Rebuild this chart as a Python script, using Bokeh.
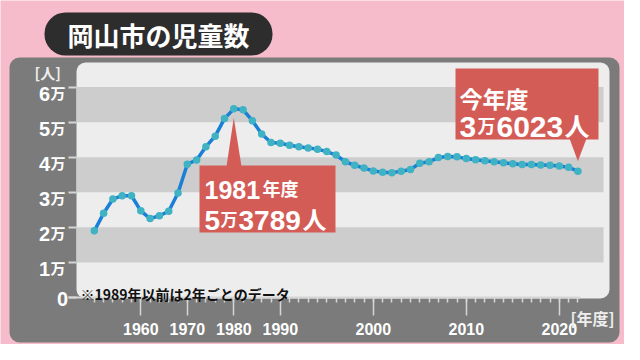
from bokeh.plotting import figure
from bokeh.models import Range1d, FixedTicker, BoxAnnotation, PolyAnnotation, Label
from bokeh.embed import file_html
from bokeh.resources import INLINE

# ---- data (children in Okayama city) ----
years_biennial = [1951, 1953, 1955, 1957, 1959, 1961, 1963, 1965, 1967, 1969,
                  1971, 1973, 1975, 1977, 1979, 1981, 1983, 1985, 1987, 1989]
vals_biennial = [19000, 24000, 28100, 29000, 29000, 24700, 22500, 23300, 24600, 29800,
                 38000, 39200, 43000, 46000, 51000, 53789, 53500, 50400, 46600, 44200]
years_annual = [1990, 1991, 1992, 1993, 1994, 1995, 1996, 1997, 1998, 1999,
                2000, 2001, 2002, 2003, 2004, 2005, 2006, 2007, 2008, 2009,
                2010, 2011, 2012, 2013, 2014, 2015, 2016, 2017, 2018, 2019,
                2020, 2021, 2022]
vals_annual = [44000, 43400, 43000, 42600, 42300, 41600, 40600, 38700, 37700, 36900,
               36100, 35700, 35600, 36000, 36500, 38300, 38700, 39900, 40200, 40100,
               39600, 39300, 39000, 38700, 38400, 38100, 37900, 37900, 37800, 37700,
               37500, 37100, 36023]
x_tick_years = [1960, 1970, 1980, 1990, 2000, 2010, 2020]
y_ticks = [0, 10000, 20000, 30000, 40000, 50000, 60000]
y_tick_nums = ["0", "1", "2", "3", "4", "5", "6"]

years = years_biennial + years_annual
vals = vals_biennial + vals_annual


def xpos(year):
    # before 1990 each 2-year step takes one slot, afterwards each year
    return (year - 1950) // 2 if year < 1990 else year - 1970


xs = [xpos(y) for y in years]

# ---- layout helpers (page pixel -> data coordinates) ----
PX_PER_SLOT = 9.3
X0_PAGE = 101.8
PX_PER_PERSON = 235 / 67000.0


def X(px):
    return (px - X0_PAGE) / PX_PER_SLOT


def Y(py):
    return (305 - py) / PX_PER_PERSON


PINK = "#f6bccb"
p = figure(width=624, height=344, output_backend="svg", toolbar_location=None,
           x_range=Range1d(X(8), X(632)), y_range=Range1d(Y(352), Y(8)),
           min_border=0)
p.border_fill_color = PINK
p.background_fill_color = PINK
p.outline_line_color = None
p.grid.visible = False

# panels
p.add_layout(BoxAnnotation(left=X(17), right=X(627), top=Y(65), bottom=Y(350),
                           fill_color="#7b7b7b", fill_alpha=1, line_color=None,
                           border_radius=10, level="image"))
p.add_layout(BoxAnnotation(left=X(84), right=X(617), top=Y(70), bottom=Y(306),
                           fill_color="#ededed", fill_alpha=1, line_color=None,
                           border_radius=9, level="image"))
for lo, hi in [(10000, 20000), (30000, 40000), (50000, 60000)]:
    p.add_layout(BoxAnnotation(left=X(84), right=X(611), bottom=lo, top=hi,
                               fill_color="#cdcdcd", fill_alpha=1, line_color=None,
                               level="underlay"))

# title pill
p.add_layout(BoxAnnotation(left=X(52), right=X(280), top=Y(20), bottom=Y(63),
                           fill_color="#2d2d2d", fill_alpha=1, line_color=None,
                           border_radius=21, level="underlay"))
p.add_layout(Label(x=X(166), y=Y(42), text="岡山市の児童数", text_align="center",
                   text_baseline="middle", text_font="Noto Sans CJK JP",
                   text_font_style="bold", text_font_size="26px", text_color="white"))

# axes (placed inside the full-canvas frame)
ax = p.xaxis[0]
ax.fixed_location = 0
ax.bounds = (X(76), X(588))
ax.ticker = FixedTicker(ticks=[xpos(y) for y in x_tick_years], minor_ticks=xs)
ax.major_label_overrides = {xpos(y): str(y) for y in x_tick_years}
ax.axis_line_color = "#d6d6d6"
ax.axis_line_width = 2
ax.major_tick_out = 18
ax.major_tick_in = 0
ax.minor_tick_out = 5
ax.minor_tick_in = 0
ax.major_tick_line_color = "#d6d6d6"
ax.minor_tick_line_color = "#d6d6d6"
ax.major_tick_line_width = 1.5
ax.minor_tick_line_width = 1.5
ax.major_label_text_color = "white"
ax.major_label_text_font = "Liberation Sans"
ax.major_label_text_font_style = "bold"
ax.major_label_text_font_size = "16px"
ax.major_label_standoff = 7

ay = p.yaxis[0]
ay.fixed_location = X(84)
ay.ticker = FixedTicker(ticks=y_ticks)
ay.major_label_overrides = {t: "" for t in y_ticks}
ay.axis_line_color = None
ay.major_tick_out = 8
ay.major_tick_in = 0
ay.minor_tick_out = 0
ay.minor_tick_in = 0
ay.major_tick_line_color = "#d6d6d6"
ay.major_tick_line_width = 2

# y tick labels: big digit + small 万
for t, n in zip(y_ticks, y_tick_nums):
    if t == 0:
        p.add_layout(Label(x=X(75.5), y=t - 1.0 / PX_PER_PERSON, text=n, text_align="right",
                           text_baseline="alphabetic", text_font="Liberation Sans",
                           text_font_style="bold", text_font_size="20px",
                           text_color="white"))
        continue
    p.add_layout(Label(x=X(57.5), y=t - 6.5 / PX_PER_PERSON, text=n, text_align="right",
                       text_baseline="alphabetic", text_font="Liberation Sans",
                       text_font_style="bold", text_font_size="20px", text_color="white"))
    p.add_layout(Label(x=X(73), y=t - 5 / PX_PER_PERSON, text="万", text_align="right",
                       text_baseline="alphabetic", text_font="Noto Sans CJK JP",
                       text_font_style="bold", text_font_size="15px", text_color="white"))

p.add_layout(Label(x=X(42), y=Y(80), text="[人]", text_font="Noto Sans CJK JP",
                   text_font_style="bold", text_font_size="15px", text_color="#eeeeee",
                   text_baseline="alphabetic"))
p.add_layout(Label(x=X(578), y=Y(325), text="[年度]", text_font="Noto Sans CJK JP",
                   text_font_style="bold", text_font_size="16px", text_color="#eeeeee",
                   text_baseline="alphabetic"))
p.add_layout(Label(x=X(88), y=Y(301), text="※1989年以前は2年ごとのデータ",
                   text_font="Noto Sans CJK JP", text_font_style="bold",
                   text_font_size="14px", text_color="#111111", text_baseline="alphabetic"))

# data
p.line(xs, vals, line_color="#1a7fd6", line_width=3.5)
p.scatter(xs, vals, size=7.5, marker="circle", fill_color="#3fb2c3", line_color=None)

RED = "#d45c56"
# 1981 callout
peak_i = vals.index(max(vals))
p.add_layout(BoxAnnotation(left=X(207), right=X(343), top=Y(173), bottom=Y(240),
                           fill_color=RED, fill_alpha=1, line_color=None))
p.add_layout(PolyAnnotation(xs=[X(234), X(249), xs[peak_i]],
                            ys=[Y(174), Y(174), vals[peak_i] - 9 / PX_PER_PERSON],
                            fill_color=RED, fill_alpha=1, line_color=None))


def txt(x, y, s, size, cjk=False):
    p.add_layout(Label(x=X(x), y=Y(y), text=s, text_baseline="alphabetic",
                       text_font="Noto Sans CJK JP" if cjk else "Liberation Sans",
                       text_font_style="bold", text_font_size=f"{size}px",
                       text_color="white"))


txt(212, 197, str(years[peak_i]), 25)
txt(270, 195, "年度", 18, True)
txt(212, 228, "5", 28)
txt(228, 226, "万", 17, True)
txt(246, 228, "3789", 28)
txt(310, 226, "人", 24, True)

# this year callout
last_i = len(vals) - 1
p.add_layout(BoxAnnotation(left=X(463), right=X(606), top=Y(76), bottom=Y(147),
                           fill_color=RED, fill_alpha=1, line_color=None))
p.add_layout(PolyAnnotation(xs=[X(577), X(594), xs[last_i]],
                            ys=[Y(146), Y(146), vals[last_i] + 10 / PX_PER_PERSON],
                            fill_color=RED, fill_alpha=1, line_color=None))
txt(467, 105, "今年度", 23, True)
txt(467, 134, "3", 30)
txt(485, 132, "万", 18, True)
txt(504, 134, "6023", 30)
txt(572, 132, "人", 25, True)

open("out.html", "w").write(file_html(p, INLINE))
